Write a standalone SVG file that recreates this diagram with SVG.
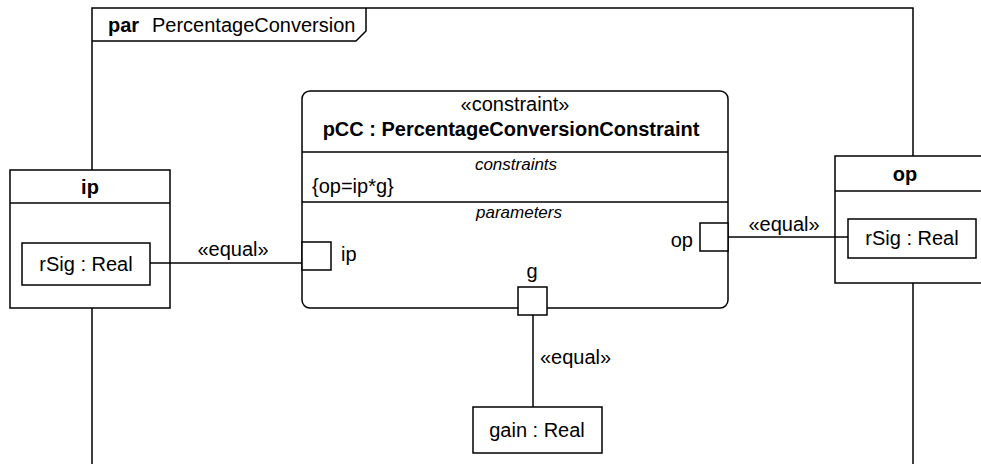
<svg xmlns="http://www.w3.org/2000/svg" width="981" height="464" viewBox="0 0 981 464">
<style>
.s{fill:#fff;stroke:#000;stroke-width:1.5}
.l{fill:none;stroke:#000;stroke-width:1.5}
text{font-family:"Liberation Sans",Arial,sans-serif;font-size:20px;fill:#000}
.b{font-weight:bold}
.i{font-style:italic;font-size:17px}
.m{text-anchor:middle}
</style>
<g id="frame">
<path class="l" d="M92,464 V8 H913 V464"/>
<path class="l" d="M92,41 H356 L366,31 V8"/>
<text class="b" x="108" y="32">par</text>
<text x="152" y="32">PercentageConversion</text>
</g>
<g id="ip">
<rect class="s" x="10" y="170" width="160" height="138"/>
<line class="l" x1="10" y1="203" x2="170" y2="203"/>
<text class="b m" x="90" y="194">ip</text>
<rect class="s" x="22" y="243" width="128" height="42"/>
<text class="m" x="86" y="271">rSig : Real</text>
</g>
<g id="op">
<rect class="s" x="835" y="156" width="160" height="127"/>
<line class="l" x1="835" y1="191" x2="995" y2="191"/>
<text class="b m" x="905" y="181">op</text>
<rect class="s" x="848" y="219" width="128" height="39"/>
<text class="m" x="912" y="245">rSig : Real</text>
</g>
<g id="pCC">
<rect class="s" x="302" y="91" width="426" height="217" rx="8"/>
<line class="l" x1="302" y1="152" x2="728" y2="152"/>
<line class="l" x1="302" y1="202" x2="728" y2="202"/>
<text class="m" x="515" y="111">«constraint»</text>
<text class="b m" x="511" y="136" font-size="19">pCC : PercentageConversionConstraint</text>
<text class="i m" x="516" y="170">constraints</text>
<text x="312" y="193">{op=ip*g}</text>
<text class="i m" x="519" y="218">parameters</text>
<rect class="s" x="302" y="242" width="29" height="28"/>
<text x="341" y="261">ip</text>
<rect class="s" x="700" y="223" width="28" height="28"/>
<text x="693" y="247" text-anchor="end">op</text>
<rect class="s" x="518" y="287" width="29" height="28"/>
<text class="m" x="532" y="278">g</text>
</g>
<g id="gain">
<rect class="s" x="473" y="407" width="129" height="46"/>
<text class="m" x="537" y="437">gain : Real</text>
</g>
<g id="connectors">
<line class="l" x1="150" y1="263" x2="302" y2="263"/>
<text class="m" x="233" y="256">«equal»</text>
<line class="l" x1="728" y1="237" x2="848" y2="237"/>
<text class="m" x="784" y="231">«equal»</text>
<line class="l" x1="533" y1="315" x2="533" y2="407"/>
<text x="540" y="364">«equal»</text>
</g>
</svg>
